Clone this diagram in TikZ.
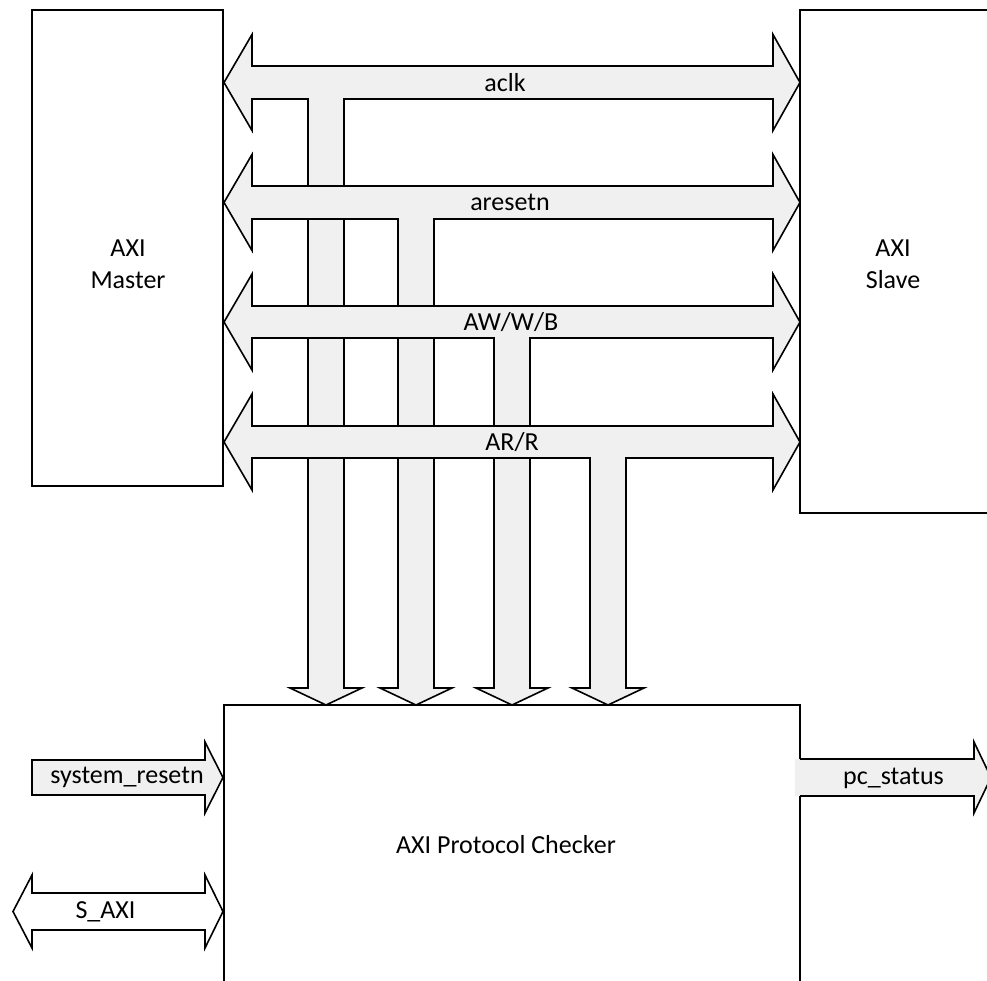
\documentclass[tikz,border=0pt]{standalone}
\usepackage{fontspec}
\setmainfont{Carlito}
\usepackage{xcolor}
\usepackage{tikz}
\usetikzlibrary{positioning}

\definecolor{busgray}{RGB}{240,240,240}
\tikzset{
  block/.style={draw, line width=1.6pt, fill=white, inner sep=0pt},
  bus/.style={draw, line width=1.6pt, fill=busgray, line join=miter},
  port/.style={draw, line width=1.6pt, fill=white, line join=miter},
  lbl/.style={font=\fontsize{26}{32}\selectfont, inner sep=0pt, align=center}
}

\begin{document}
\begin{tikzpicture}[x=1pt,y=-1pt]
\useasboundingbox (0,0) rectangle (987,981);

% blocks
\node (master) [block, minimum width=191pt, minimum height=476pt] at (127.5,248) {};
\node (slave) [block, minimum width=200pt, minimum height=503pt] at (900,261.5) {};
\node (checker) [block, minimum width=576pt, minimum height=295pt] at (512,852.5) {};
\node (masterlbl) [lbl] at (128,264) {AXI\\Master};
\node (slavelbl) [lbl] at (893,264) {AXI\\Slave};
\node (checkerlbl) [lbl] at (506,845) {AXI Protocol Checker};

% buses, later ones drawn over the earlier stems
\draw [bus] (224,82.5) -- (252,34.5) -- (252,66) -- (773,66) -- (773,34.5) -- (800,82.5)
  -- (773,130.5) -- (773,99) -- (344,99) -- (344,688) -- (362,688) -- (326,705)
  -- (290,688) -- (308,688) -- (308,99) -- (252,99) -- (252,130.5) -- cycle;
\draw [bus] (224,202.5) -- (252,154.5) -- (252,186) -- (773,186) -- (773,154.5) -- (800,202.5)
  -- (773,250.5) -- (773,219) -- (434,219) -- (434,688) -- (452,688) -- (416,705)
  -- (380,688) -- (398,688) -- (398,219) -- (252,219) -- (252,250.5) -- cycle;
\draw [bus] (224,322) -- (252,274) -- (252,306) -- (773,306) -- (773,274) -- (800,322)
  -- (773,370) -- (773,338) -- (530,338) -- (530,688) -- (548,688) -- (512,705)
  -- (476,688) -- (494,688) -- (494,338) -- (252,338) -- (252,370) -- cycle;
\draw [bus] (224,442) -- (252,394) -- (252,426) -- (773,426) -- (773,394) -- (800,442)
  -- (773,490) -- (773,458) -- (626,458) -- (626,688) -- (644,688) -- (608,705)
  -- (572,688) -- (590,688) -- (590,458) -- (252,458) -- (252,490) -- cycle;
\node (aclk) [lbl] at (505,82.5) {aclk};
\node (aresetn) [lbl] at (510,202.5) {aresetn};
\node (awwb) [lbl] at (511,322) {AW/W/B};
\node (arr) [lbl] at (512,442) {AR/R};

% checker ports
\draw [bus] (32,760) -- (205,760) -- (205,742) -- (223,777.5) -- (205,813)
  -- (205,795) -- (32,795) -- cycle;
\node (sysrst) [lbl] at (127,777.5) {system\_resetn};
\draw [port] (13,911.5) -- (32,875) -- (32,893) -- (205,893) -- (205,875) -- (223,911.5)
  -- (205,948) -- (205,930) -- (32,930) -- (32,948) -- cycle;
\node (saxi) [lbl] at (105.5,911.5) {S\_AXI};
\fill [busgray] (795,759) rectangle (974,796);
\draw [bus] (800,759) -- (974,759) -- (974,742) -- (991,777.5) -- (974,813)
  -- (974,796) -- (800,796);
\node (pcstatus) [lbl] at (893.5,778) {pc\_status};
\end{tikzpicture}
\end{document}
